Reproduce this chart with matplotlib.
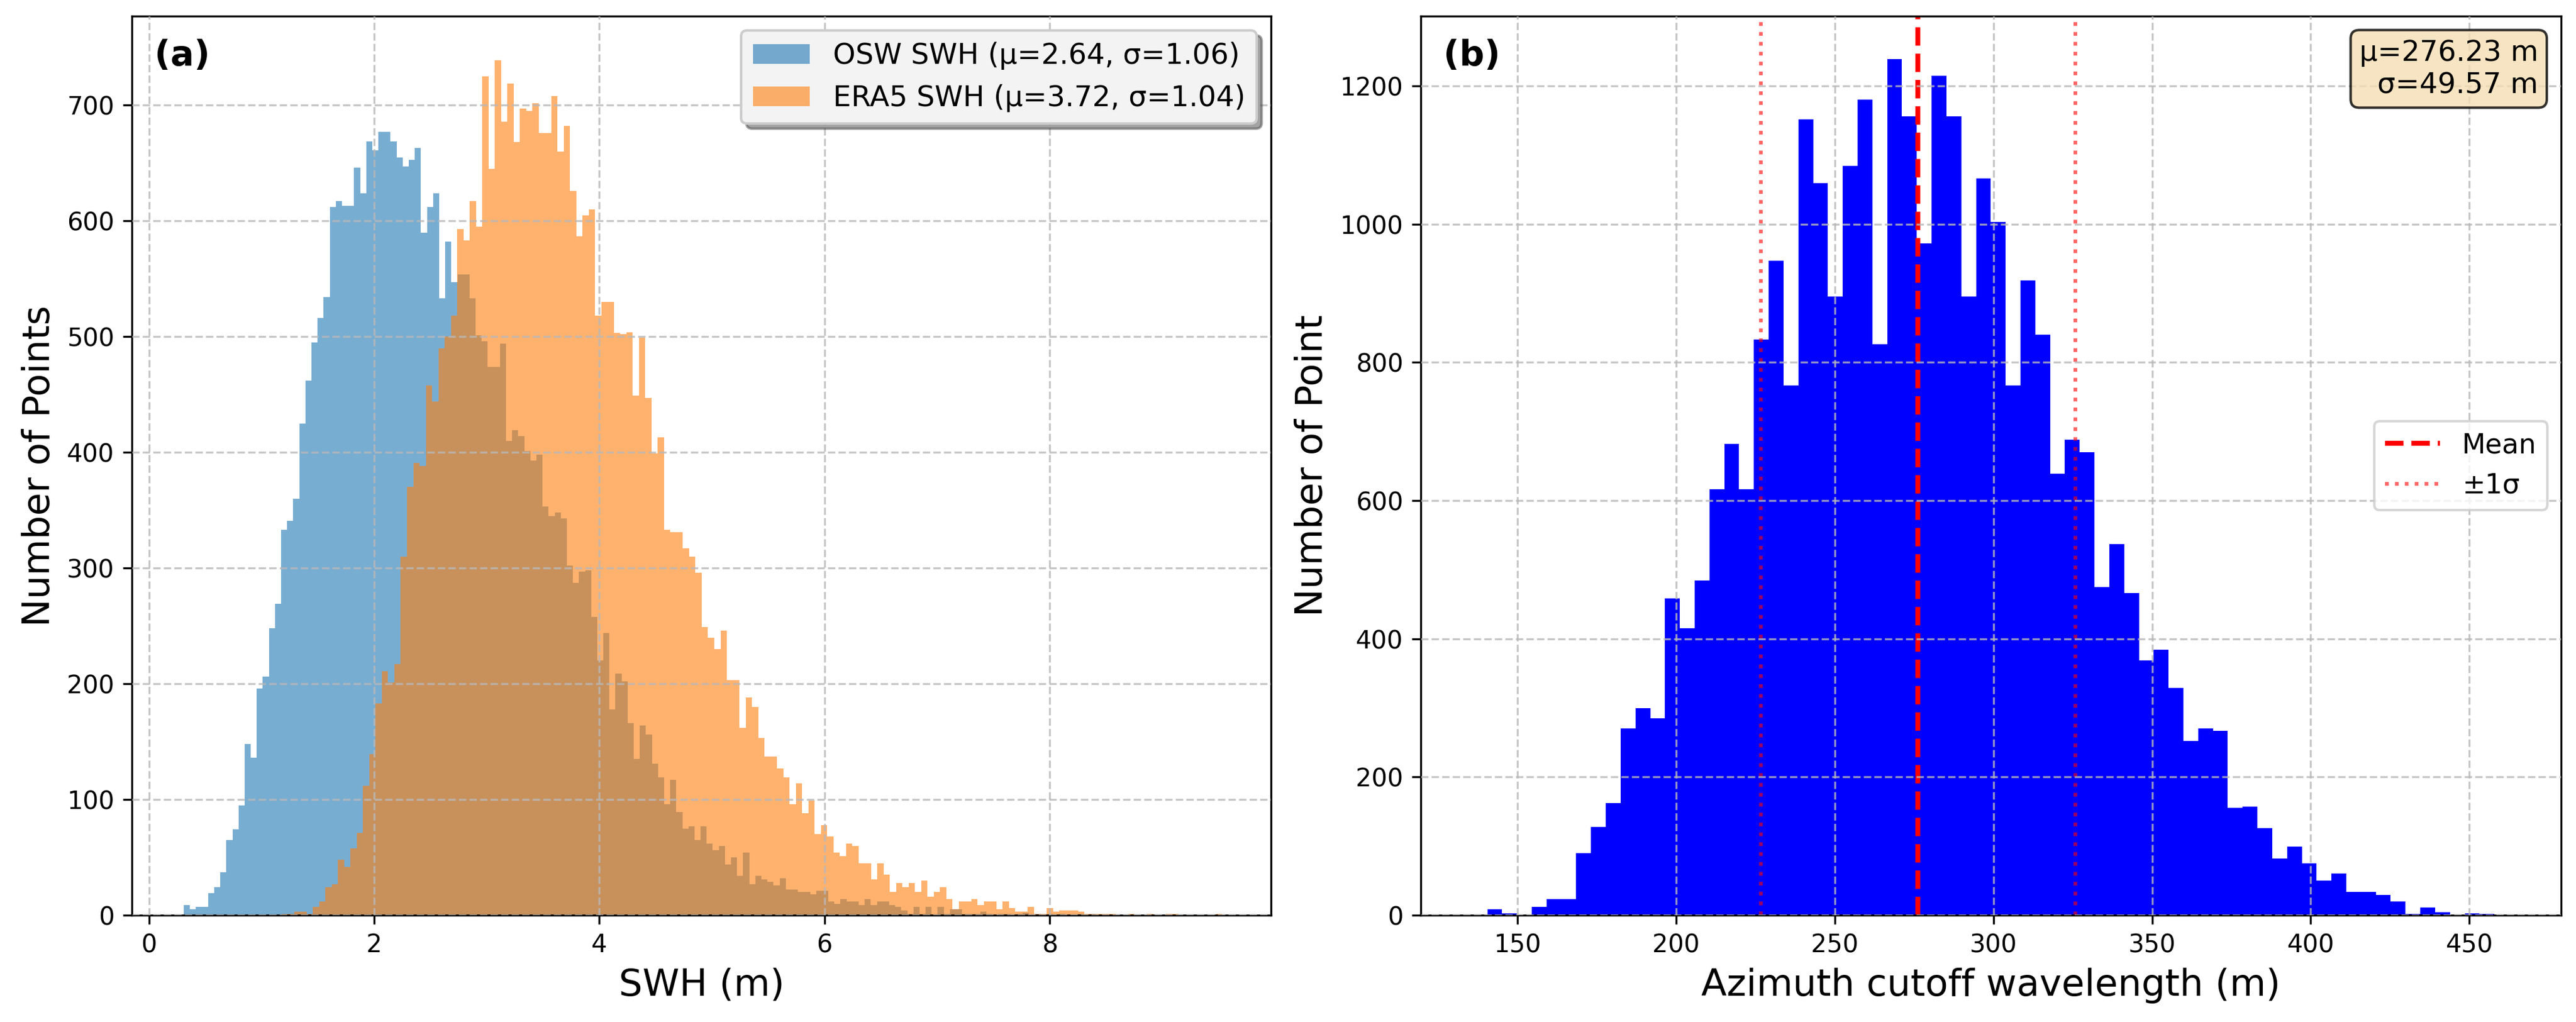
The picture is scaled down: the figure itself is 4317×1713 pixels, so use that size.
import numpy as np
import matplotlib
matplotlib.use("Agg")
import matplotlib.pyplot as plt

plt.rcParams['font.family'] = ['DejaVu Sans']

# ---------------- Panel (a) data: SWH histograms ----------------
osw_start = 0.309
osw_width = 0.054
osw_counts = [
    9, 5, 7, 7, 19, 24, 37, 65, 74, 95, 148, 136, 196, 206, 248, 269, 333, 341, 360, 425,
    462, 495, 516, 534, 612, 617, 613, 613, 646, 624, 669, 661, 677, 677, 669, 655, 647, 653,
    663, 590, 612, 624, 533, 582, 547,
    554, 554, 533, 501, 496, 474, 474, 494, 410, 419, 414, 401, 393, 398, 353, 345, 348, 343,
    302, 287, 297, 298, 258, 220, 244, 178, 209, 202,
    166, 135, 164, 156, 131, 119, 96, 117, 89, 75, 77, 65, 77, 62, 56, 60, 44, 50, 34, 54,
    27, 34, 31, 29, 26, 32, 22,
    22, 20, 20, 18, 21, 21, 12, 10, 14, 12, 12, 9, 14, 9, 12, 12, 9, 7, 4, 1, 7, 1, 7, 0, 7,
    1, 5, 5, 1, 1, 1, 3, 1, 0, 1, 1, 0, 1, 2, 0, 1, 0, 1, 0, 1, 0, 0, 1, 0, 1,
]

era5_start = 1.177
era5_width = 0.0557
era5_counts = [
    1, 1, 3, 3, 1, 7, 12, 24, 27, 48, 42, 58, 71, 112, 139, 183, 211, 201, 217, 310, 370,
    391, 388, 458, 444, 490, 500, 518,
    593, 583, 617, 595, 725, 645, 739, 686, 719, 668, 697, 695, 702, 676, 676, 708, 660, 682,
    626, 587, 605, 610, 518, 530, 530, 503, 502,
    504, 449, 499, 447, 399, 413, 333, 331, 331, 317, 310, 296, 249, 240, 230, 246, 203, 203,
    162, 188, 180, 153, 137, 137, 127, 119, 96, 114,
    88, 99, 70, 78, 68, 54, 51, 62, 60, 45, 45, 31, 45, 35, 20, 28, 24, 28, 20, 30,
    16, 20, 24, 14, 5, 12, 12, 14, 9, 12, 12, 5, 12, 6, 3, 3, 7, 1, 1, 6,
    3, 4, 4, 4, 3, 1, 1, 1, 1, 1, 0, 0, 1, 0, 0, 1, 0, 0, 1, 1, 0, 0, 0, 0, 0, 0, 1,
]

osw_label = "OSW SWH (μ=2.64, σ=1.06)"
era5_label = "ERA5 SWH (μ=3.72, σ=1.04)"

# ---------------- Panel (b) data: azimuth cutoff histogram ----------------
az_start = 135.85
az_width = 4.667
az_counts = [
    1,
    9, 3, 0, 12, 23, 23, 90, 128, 162, 270, 300, 285, 458, 415, 484, 616, 682, 616, 833, 947,
    767, 1152, 1059, 895, 1084, 1180, 826, 1239, 1156, 972, 1215, 1156, 895, 1066, 1003, 767,
    919, 840, 639, 688, 670, 475, 537, 466, 369, 384, 329, 252, 270, 267, 155, 157, 126, 82,
    99, 75, 50, 60, 34, 34, 29, 20, 2, 11, 4, 0, 3, 2,
    1,
]
az_mean = 276.23
az_std = 49.57

# ---------------- Figure ----------------
W, H, DPI = 4317, 1713, 300
fig = plt.figure(figsize=(W / DPI, H / DPI), dpi=DPI)
ax1 = fig.add_axes([0.0512, 0.1045, 0.4422, 0.8797])
ax2 = fig.add_axes([0.5515, 0.1045, 0.4427, 0.8797])

grid_kw = dict(linestyle='--', color='#b8b8b8', alpha=0.8, linewidth=0.8)


def edges_for(start, width, n):
    return start + width * np.arange(n + 1)


# Panel (a)
osw_edges = edges_for(osw_start, osw_width, len(osw_counts))
era5_edges = edges_for(era5_start, era5_width, len(era5_counts))
ax1.hist(osw_edges[:-1], bins=osw_edges, weights=osw_counts, histtype='stepfilled',
         color='C0', alpha=0.6, label=osw_label, linewidth=0)
ax1.hist(era5_edges[:-1], bins=era5_edges, weights=era5_counts, histtype='stepfilled',
         color='C1', alpha=0.6, label=era5_label, linewidth=0)
ax1.set_xlim(-0.152, 9.965)
ax1.set_ylim(0, 777)
ax1.set_axisbelow(False)
ax1.grid(True, **grid_kw)
ax1.set_xlabel("SWH (m)", fontsize=15)
ax1.set_ylabel("Number of Points", fontsize=15)
ax1.tick_params(labelsize=10)
ax1.set_xticks([0, 2, 4, 6, 8])
ax1.set_yticks(np.arange(0, 800, 100))
ax1.text(0.02, 0.975, "(a)", transform=ax1.transAxes, fontsize=14, fontweight='bold',
         ha='left', va='top')
ax1.legend(loc='upper right', fontsize=11.5, shadow=True, facecolor='#f3f3f3',
           framealpha=1.0, edgecolor='#cccccc')

# Panel (b)
az_edges = edges_for(az_start, az_width, len(az_counts))
ax2.hist(az_edges[:-1], bins=az_edges, weights=az_counts, histtype='stepfilled',
         color='blue', linewidth=0)
ax2.axvline(az_mean, color='red', linestyle='--', linewidth=2, label='Mean')
ax2.axvline(az_mean - az_std, color='red', linestyle=':', linewidth=1.5, alpha=0.6,
            label='±1σ')
ax2.axvline(az_mean + az_std, color='red', linestyle=':', linewidth=1.5, alpha=0.6)
ax2.set_xlim(119.5, 478.9)
ax2.set_ylim(0, 1301)
ax2.set_axisbelow(False)
ax2.grid(True, **grid_kw)
ax2.set_xlabel("Azimuth cutoff wavelength (m)", fontsize=15)
ax2.set_ylabel("Number of Point", fontsize=15)
ax2.tick_params(labelsize=10)
ax2.set_xticks(np.arange(150, 500, 50))
ax2.set_yticks(np.arange(0, 1400, 200))
ax2.text(0.02, 0.975, "(b)", transform=ax2.transAxes, fontsize=14, fontweight='bold',
         ha='left', va='top')
ax2.text(0.98, 0.975, f"μ={az_mean:.2f} m\nσ={az_std:.2f} m", transform=ax2.transAxes,
         fontsize=11.5, ha='right', va='top',
         bbox=dict(boxstyle='round', facecolor='wheat', alpha=0.8))
ax2.legend(loc='center right', fontsize=11)

fig.savefig("out.png", dpi=DPI)
